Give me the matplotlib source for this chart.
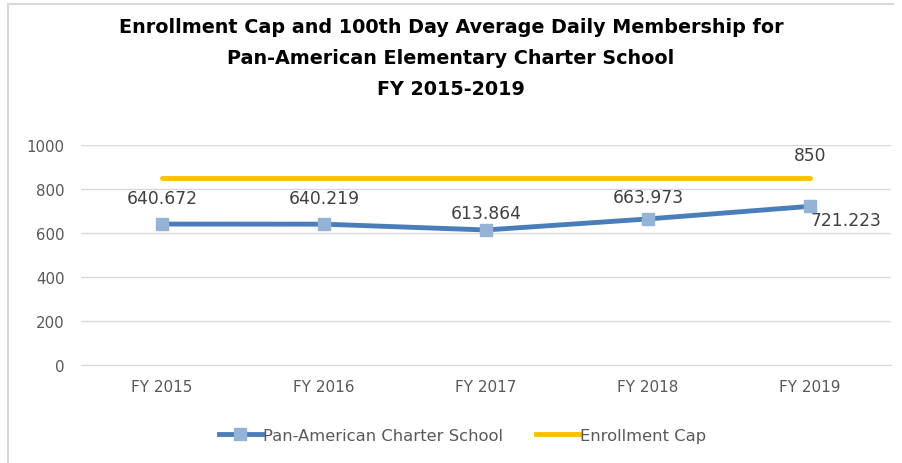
import matplotlib
matplotlib.use("Agg")
import matplotlib.pyplot as plt
from matplotlib.lines import Line2D

years = ["FY 2015", "FY 2016", "FY 2017", "FY 2018", "FY 2019"]
adm = [640.672, 640.219, 613.864, 663.973, 721.223]
cap = [850, 850, 850, 850, 850]
yticks = [0, 200, 400, 600, 800, 1000]

plt.rcParams['font.family'] = ['DejaVu Sans']

fig = plt.figure(figsize=(9.02, 4.64), dpi=100)
ax = fig.add_axes([0.0898, 0.2112, 0.8980, 0.4741])

x = list(range(len(years)))
ax.plot(x, cap, color="#FFC000", lw=3.5, solid_capstyle="round", zorder=3)
ax.plot(x, adm, color="#4A7EBB", lw=3.5, marker="s", markersize=9,
        markerfacecolor="#95B3D7", markeredgecolor="#95B3D7",
        solid_capstyle="round", zorder=4)

# data labels (offsets in pixels)
offs = [(0, 26), (0, 26), (0, 17), (0, 22), (36, -14)]
for xi, v, (dx, dy) in zip(x, adm, offs):
    ax.annotate(f"{v:.3f}", (xi, v), xytext=(dx, dy), textcoords="offset pixels",
                ha="center", va="center", fontsize=12.3, color="#404040")
ax.annotate(f"{cap[-1]}", (x[-1], cap[-1]), xytext=(0, 23), textcoords="offset pixels",
            ha="center", va="center", fontsize=12.3, color="#404040")

ax.set_xlim(-0.5, len(years) - 0.5)
ax.set_ylim(0, 1000)
ax.set_yticks(yticks)
ax.set_xticks(x)
ax.set_xticklabels(years)
ax.yaxis.grid(True, color="#D9D9D9", lw=1)
ax.set_axisbelow(True)
for s in ["top", "right", "left"]:
    ax.spines[s].set_visible(False)
ax.spines["bottom"].set_color("#D9D9D9")
ax.tick_params(axis="x", length=0, labelsize=11, colors="#595959", pad=10)
ax.tick_params(axis="y", length=0, labelsize=10.8, colors="#595959", pad=12)

fig.text(0.5, 0.962, "Enrollment Cap and 100th Day Average Daily Membership for\n"
         "Pan-American Elementary Charter School\nFY 2015-2019",
         ha="center", va="top", fontsize=13.8, fontweight="bold",
         color="#000000", linespacing=1.8)

handles = [
    Line2D([], [], color="#4A7EBB", lw=3.5, marker="s", markersize=9,
           markerfacecolor="#95B3D7", markeredgecolor="#95B3D7"),
    Line2D([], [], color="#FFC000", lw=3.5),
]
leg = fig.legend(handles, ["Pan-American Charter School", "Enrollment Cap"],
                 loc="center", bbox_to_anchor=(0.513, 0.06), ncol=2, frameon=False,
                 fontsize=11.8, handlelength=2.6, handletextpad=0.1, columnspacing=2.0)
for t in leg.get_texts():
    t.set_color("#595959")

# chart area border (left and top)
fig.add_artist(Line2D([8 / 902, 8 / 902], [0, 1 - 5 / 464], color="#D9D9D9", lw=1.5,
                      transform=fig.transFigure))
fig.add_artist(Line2D([8 / 902, 893 / 902], [1 - 5 / 464, 1 - 5 / 464], color="#D9D9D9",
                      lw=1.5, transform=fig.transFigure))

fig.savefig("out.png", dpi=100)
